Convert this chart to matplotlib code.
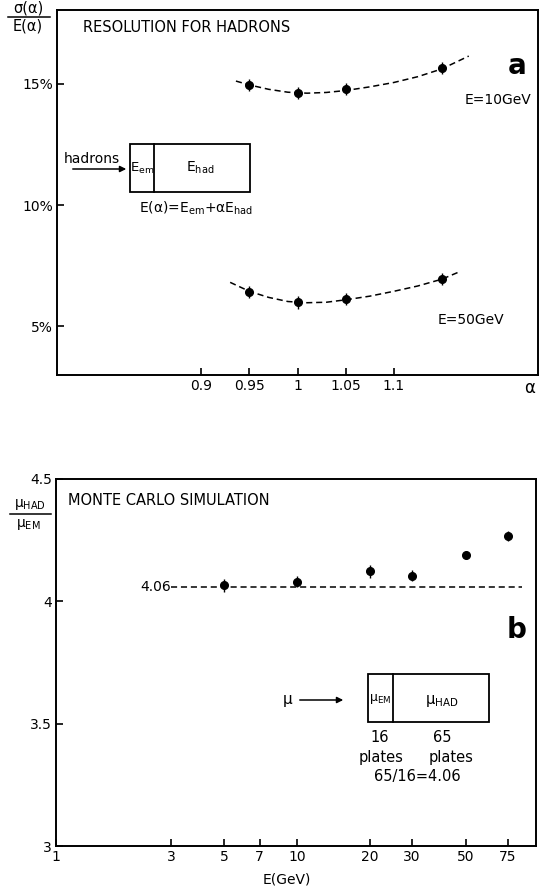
import matplotlib
matplotlib.use('Agg')
from matplotlib import pyplot as plt
from matplotlib.patches import Rectangle, FancyArrowPatch
from matplotlib.lines import Line2D
import numpy as np

# panel a: resolution vs alpha
alpha_pts = [0.95, 1.0, 1.05, 1.15]
res10 = [14.96, 14.64, 14.78, 15.65]
res50 = [6.43, 5.99, 6.15, 6.96]
res_err = [0.25, 0.25, 0.25, 0.25]

# dashed fit curves
fit10_alpha = [0.936, 0.95, 0.97, 0.99, 1.01, 1.03, 1.05, 1.075, 1.1, 1.125, 1.15, 1.178]
fit10_val = [15.12, 14.96, 14.78, 14.66, 14.62, 14.65, 14.73, 14.88, 15.06, 15.3, 15.62, 16.15]
fit50_alpha = [0.930, 0.95, 0.97, 0.99, 1.01, 1.03, 1.05, 1.075, 1.1, 1.125, 1.15, 1.168]
fit50_val = [6.82, 6.45, 6.2, 6.03, 5.98, 6.0, 6.1, 6.25, 6.45, 6.67, 6.95, 7.25]

alpha_ticks = [0.9, 0.95, 1.0, 1.05, 1.1]
alpha_labels = ['0.9', '0.95', '1', '1.05', '1.1']
res_ticks = [5, 10, 15]
res_labels = ['5%', '10%', '15%']

# panel b: mu ratio vs energy
energy = [5, 10, 20, 30, 50, 75]
ratio = [4.065, 4.081, 4.122, 4.105, 4.189, 4.266]
ratio_err = [0.025, 0.022, 0.025, 0.022, 0.018, 0.02]
ratio_ref = 4.06
e_ticks = [1, 3, 5, 7, 10, 20, 30, 50, 75]
r_ticks = [3, 3.5, 4, 4.5]
r_labels = ['3', '3.5', '4', '4.5']

W, H = 542, 888
fig = plt.figure(figsize=(W / 100, H / 100), dpi=100)


def fx(x):
    return x / W


def fy(y):
    return 1 - y / H


def ftext(x, y, s, **kw):
    kw.setdefault('fontsize', 10)
    kw.setdefault('ha', 'center')
    kw.setdefault('va', 'center')
    fig.text(fx(x), fy(y), s, **kw)


def fbox(x0, y0, x1, y1):
    fig.patches.append(Rectangle((fx(x0), fy(y1)), fx(x1) - fx(x0), fy(y0) - fy(y1),
                                 transform=fig.transFigure, fill=False, lw=1.3, ec='black'))


def fline(x0, y0, x1, y1, **kw):
    fig.lines.append(Line2D([fx(x0), fx(x1)], [fy(y0), fy(y1)],
                            transform=fig.transFigure, color='black', **kw))


def farrow(x0, y, x1):
    fig.patches.append(FancyArrowPatch((fx(x0), fy(y)), (fx(x1), fy(y)),
                                       transform=fig.transFigure, arrowstyle='-|>',
                                       mutation_scale=9, lw=1.1, color='black'))


def style(ax):
    for s in ax.spines.values():
        s.set_linewidth(1.4)
    ax.tick_params(direction='in', length=5, width=1.2, labelsize=10, pad=3,
                   top=False, right=False)


# ---- panel a ----
ax1 = fig.add_axes([fx(57), fy(375), fx(538) - fx(57), fy(10) - fy(375)])
style(ax1)
ax1.plot(fit10_alpha, fit10_val, ls=(0, (4, 2.5)), color='black', lw=1.1)
ax1.plot(fit50_alpha, fit50_val, ls=(0, (4, 2.5)), color='black', lw=1.1)
ax1.errorbar(alpha_pts, res10, yerr=res_err, fmt='o', color='black', ms=5.5, elinewidth=1, capsize=0)
ax1.errorbar(alpha_pts, res50, yerr=res_err, fmt='o', color='black', ms=5.5, elinewidth=1, capsize=0)
ax1.set_xlim(0.75, 1.25)
ax1.set_ylim(3, 18.05)
ax1.set_xticks(alpha_ticks)
ax1.set_xticklabels(alpha_labels)
ax1.set_yticks(res_ticks)
ax1.set_yticklabels(res_labels)

ftext(83, 27, 'RESOLUTION FOR HADRONS', ha='left', fontsize=10.5)
ftext(517, 66, 'a', fontsize=20, fontweight='bold')
ftext(498, 100, 'E=10GeV')
ftext(471, 320, 'E=50GeV')
ftext(530, 388, 'α', fontsize=12)
# y label as a hand-set fraction
ftext(28, 8, 'σ(α)', fontsize=10.5)
fline(8, 17, 50, 17, lw=1.1)
ftext(28, 26, 'E(α)', fontsize=10.5)

ftext(92, 159, 'hadrons', fontsize=10)
farrow(70, 169, 129)
fbox(130, 144, 250, 192)
fline(154, 144, 154, 192, lw=1.3)
ftext(142, 168, r'E$_{\rm em}$', fontsize=9.5)
ftext(200, 168, r'E$_{\rm had}$', fontsize=10)
ftext(196, 208, r'E(α)=E$_{\rm em}$+αE$_{\rm had}$', fontsize=10)

# ---- panel b ----
ax2 = fig.add_axes([fx(56), fy(846), fx(536) - fx(56), fy(479) - fy(846)])
style(ax2)
ax2.set_xscale('log')
ax2.plot([3, 86], [ratio_ref, ratio_ref], ls=(0, (4, 2.5)), color='black', lw=1.1)
ax2.errorbar(energy, ratio, yerr=ratio_err, fmt='o', color='black', ms=5.5, elinewidth=1, capsize=0)
ax2.set_xlim(1, 98)
ax2.set_ylim(3, 4.5)
ax2.set_xticks(e_ticks)
ax2.set_xticklabels([str(t) for t in e_ticks])
ax2.xaxis.set_minor_locator(matplotlib.ticker.NullLocator())
ax2.set_yticks(r_ticks)
ax2.set_yticklabels(r_labels)

ftext(68, 500, 'MONTE CARLO SIMULATION', ha='left', fontsize=10.5)
ftext(517, 630, 'b', fontsize=20, fontweight='bold')
ftext(171, 587, '4.06', ha='right')
ftext(287, 879, 'E(GeV)')
ftext(30, 505, r'μ$_{\rm HAD}$', fontsize=10)
fline(10, 514, 51, 514, lw=1.1)
ftext(28, 524, r'μ$_{\rm EM}$', fontsize=10)

ftext(288, 699, 'μ', fontsize=11)
farrow(297, 700, 346)
fbox(368, 674, 489, 722)
fline(393, 674, 393, 722, lw=1.3)
ftext(380, 699, r'μ$_{\rm EM}$', fontsize=9)
ftext(442, 701, r'μ$_{\rm HAD}$', fontsize=10.5)
ftext(380, 737, '16', fontsize=10.5)
ftext(442, 737, '65', fontsize=10.5)
ftext(381, 757, 'plates', fontsize=10.5)
ftext(451, 757, 'plates', fontsize=10.5)
ftext(417, 776, '65/16=4.06', fontsize=10.5)

fig.savefig('out.png', dpi=100)
